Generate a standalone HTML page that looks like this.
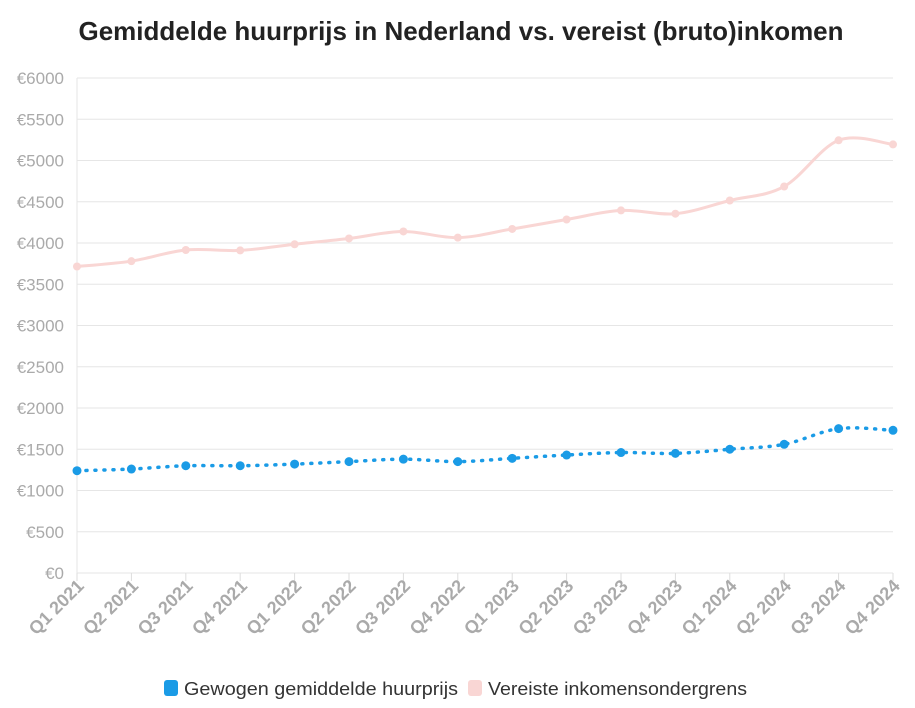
<!DOCTYPE html>
<html><head><meta charset="utf-8"><style>
body{margin:0;background:#fff;width:915px;height:703px;overflow:hidden;font-family:"Liberation Sans",sans-serif}
</style></head><body>
<svg id="chart" width="915" height="703" xmlns="http://www.w3.org/2000/svg">
<text x="461" y="40" text-anchor="middle" font-size="26" font-weight="bold" fill="#222" textLength="765" lengthAdjust="spacingAndGlyphs">Gemiddelde huurprijs in Nederland vs. vereist (bruto)inkomen</text>
<g id="grid"></g><g id="yticks"></g><g id="xticks"></g><g id="series"></g>
<g>
<rect x="164" y="680" width="14" height="16" rx="3" fill="#1a9be6"/>
<text x="184" y="695" font-size="18" fill="#333" textLength="274" lengthAdjust="spacingAndGlyphs">Gewogen gemiddelde huurprijs</text>
<rect x="468" y="680" width="14" height="16" rx="3" fill="#f9d6d4"/>
<text x="488" y="695" font-size="18" fill="#333" textLength="259" lengthAdjust="spacingAndGlyphs">Vereiste inkomensondergrens</text>
</g>
</svg>
<script>
const categories=["Q1 2021","Q2 2021","Q3 2021","Q4 2021","Q1 2022","Q2 2022","Q3 2022","Q4 2022","Q1 2023","Q2 2023","Q3 2023","Q4 2023","Q1 2024","Q2 2024","Q3 2024","Q4 2024"];
const rentValues=[1240,1260,1300,1300,1320,1350,1380,1350,1390,1430,1460,1450,1500,1560,1750,1730];
const incomeValues=[3715,3780,3915,3910,3985,4055,4140,4065,4170,4285,4395,4355,4515,4685,5245,5195];
const yTicks=[0,500,1000,1500,2000,2500,3000,3500,4000,4500,5000,5500,6000];
const NS="http://www.w3.org/2000/svg";
const X0=77,X1=893,Y0=573,Y1=78,YMAX=6000;
function xs(i){return X0+(X1-X0)*i/(categories.length-1);}
function ys(v){return Y0-(Y0-Y1)*v/YMAX;}
function mk(tag,attrs,parent){const e=document.createElementNS(NS,tag);for(const k in attrs)e.setAttribute(k,attrs[k]);parent.appendChild(e);return e;}
const grid=document.getElementById('grid'),yt=document.getElementById('yticks'),xt=document.getElementById('xticks'),ser=document.getElementById('series');
yTicks.forEach(v=>{
 const l=mk('line',{x1:X0,x2:X1,y1:ys(v),y2:ys(v),stroke:'#e6e6e6','stroke-width':1},grid);
 
 
 const t=mk('text',{x:64,y:ys(v)+6,'text-anchor':'end','font-size':17,fill:'#aaa'},yt);
 
 
 t.textContent='€'+v;
});
const ax=mk('line',{x1:X0,x2:X0,y1:Y1,y2:Y0,stroke:'#e6e6e6'},grid);


categories.forEach((c,i)=>{
 const tk=mk('line',{x1:xs(i),x2:xs(i),y1:Y0,y2:Y0+8,stroke:'#ddd'},xt);
 
 
 const t=mk('text',{x:xs(i)+8,y:Y0+14,'text-anchor':'end','font-size':18,'font-weight':'bold',fill:'#aaa',transform:`rotate(-45 ${xs(i)+8} ${Y0+14})`},xt);
 
 
 t.textContent=c;
});
function smooth(vals){
 const p=vals.map((v,i)=>[xs(i),ys(v)]);let d=`M${p[0][0]},${p[0][1]}`;
 for(let i=0;i<p.length-1;i++){const a=p[Math.max(0,i-1)],b=p[i],c=p[i+1],e=p[Math.min(p.length-1,i+2)];
  d+=` C${b[0]+(c[0]-a[0])/6},${b[1]+(c[1]-a[1])/6} ${c[0]-(e[0]-b[0])/6},${c[1]-(e[1]-b[1])/6} ${c[0]},${c[1]}`;}
 return d;}
const pl=mk('path',{d:smooth(incomeValues),fill:'none',stroke:'#f9d6d4','stroke-width':3},ser);


incomeValues.forEach((v,i)=>{const c=mk('circle',{cx:xs(i),cy:ys(v),r:4,fill:'#f9d6d4'},ser);
 
 });
const bl=mk('path',{d:smooth(rentValues),fill:'none',stroke:'#1a9be6','stroke-width':3.5,'stroke-dasharray':'1 8','stroke-linecap':'round'},ser);


rentValues.forEach((v,i)=>{const c=mk('circle',{cx:xs(i),cy:ys(v),r:4.5,fill:'#1a9be6'},ser);
 
 });
</script>
</body></html>
